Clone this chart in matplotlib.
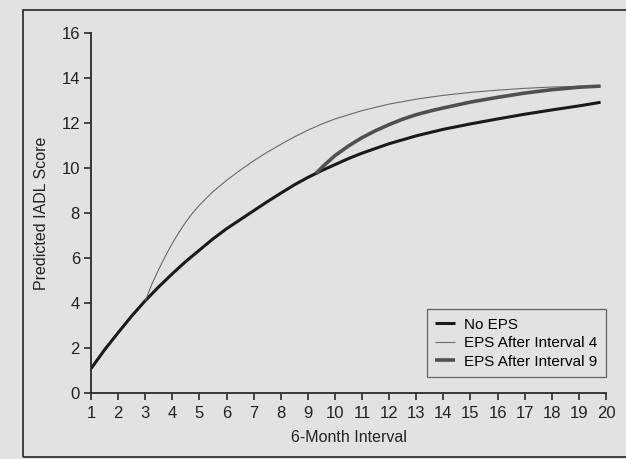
import matplotlib
matplotlib.use("Agg")
import matplotlib.pyplot as plt
from matplotlib.patches import Rectangle

# Data
x_no_eps = [1, 1.5, 2, 2.5, 3, 3.5, 4, 4.5, 5, 5.5, 6, 6.5, 7, 7.5, 8, 8.5, 9, 9.5, 10,
            10.5, 11, 12, 13, 14, 15, 16, 17, 18, 19, 19.8]
y_no_eps = [1.08, 1.92, 2.68, 3.42, 4.1, 4.72, 5.3, 5.85, 6.35, 6.85, 7.3, 7.7, 8.1, 8.5,
            8.88, 9.25, 9.58, 9.88, 10.15, 10.42, 10.66, 11.08, 11.43, 11.72, 11.96,
            12.18, 12.39, 12.58, 12.76, 12.92]

x_eps4 = [3, 3.25, 3.5, 3.75, 4, 4.25, 4.5, 4.75, 5, 5.5, 6, 6.5, 7, 7.5, 8, 8.5, 9, 9.5,
          10, 11, 12, 13, 14, 15, 16, 17, 18, 19, 19.8]
y_eps4 = [4.1, 4.85, 5.5, 6.1, 6.65, 7.15, 7.6, 8.0, 8.35, 8.95, 9.45, 9.9, 10.32, 10.7,
          11.05, 11.38, 11.68, 11.95, 12.18, 12.55, 12.84, 13.06, 13.23, 13.36, 13.46,
          13.54, 13.6, 13.63, 13.64]

x_eps9 = [9.3, 9.6, 10, 10.5, 11, 11.5, 12, 12.5, 13, 13.5, 14, 15, 16, 17, 18, 19, 19.8]
y_eps9 = [9.76, 10.12, 10.55, 10.98, 11.35, 11.66, 11.93, 12.17, 12.37, 12.53, 12.67,
          12.93, 13.14, 13.33, 13.48, 13.59, 13.64]

labels = ["No EPS", "EPS After Interval 4", "EPS After Interval 9"]
x_ticks = list(range(1, 21))
y_ticks = [0, 2, 4, 6, 8, 10, 12, 14, 16]

plt.rcParams['font.family'] = ['Liberation Sans Narrow', 'Liberation Sans', 'DejaVu Sans']

bg = "#e2e2e2"
fig = plt.figure(figsize=(6.26, 4.59), dpi=100, facecolor=bg)
W, H = 626, 459

# outer frame
fig.patches.append(Rectangle((23 / W, 2 / H), 1.2, (457 - 10) / H, transform=fig.transFigure,
                             fill=False, edgecolor="#333333", linewidth=1.3))

ax = fig.add_axes([91 / W, (H - 393) / H, (606 - 91) / W, (393 - 33) / H])
ax.set_facecolor("none")

ax.plot(x_no_eps, y_no_eps, color="#1a1a1a", lw=2.2, label=labels[0],
        solid_capstyle="butt", solid_joinstyle="round")
ax.plot(x_eps4, y_eps4, color="#6a6a6a", lw=0.8, label=labels[1],
        solid_capstyle="butt", solid_joinstyle="round")
ax.plot(x_eps9, y_eps9, color="#505050", lw=2.6, label=labels[2],
        solid_capstyle="butt", solid_joinstyle="round")

ax.set_xlim(1, 20)
ax.set_ylim(0, 16)
ax.set_xticks(x_ticks)
ax.set_yticks(y_ticks)
for s in ["top", "right"]:
    ax.spines[s].set_visible(False)
for s in ["left", "bottom"]:
    ax.spines[s].set_color("#2a2a2a")
    ax.spines[s].set_linewidth(1.3)
ax.tick_params(axis="both", direction="out", length=5, width=1.2, color="#2a2a2a",
               labelsize=12, labelcolor="#222222")
ax.tick_params(axis="y", pad=3)
ax.tick_params(axis="x", pad=4)

ax.set_xlabel("6-Month Interval", fontsize=11.5, color="#222222", labelpad=7)
ax.set_ylabel("Predicted IADL Score", fontsize=11.5, color="#222222", labelpad=9)

leg = ax.legend(loc="lower right", bbox_to_anchor=(1.0, 0.044), fontsize=11, frameon=True,
                fancybox=False, handlelength=1.3, handletextpad=0.6, borderpad=0.55,
                labelspacing=0.3, borderaxespad=0)
leg.get_frame().set_edgecolor("#444444")
leg.get_frame().set_facecolor("none")
leg.get_frame().set_linewidth(0.9)

fig.savefig("out.png", dpi=100, facecolor=bg)
